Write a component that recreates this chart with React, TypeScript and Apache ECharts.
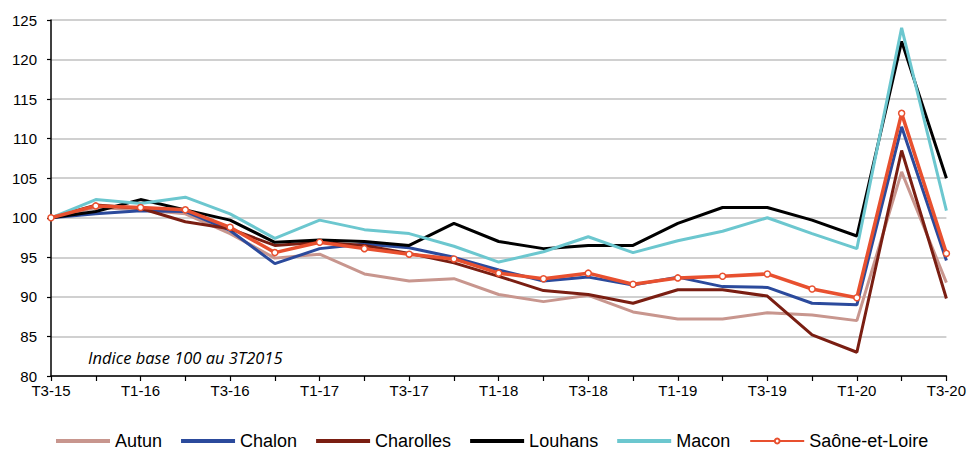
import React, { useEffect, useRef } from "react";
import * as echarts from "echarts";

const categories = [
  "T3-15", "T4-15", "T1-16", "T2-16", "T3-16", "T4-16", "T1-17", "T2-17", "T3-17", "T4-17",
  "T1-18", "T2-18", "T3-18", "T4-18", "T1-19", "T2-19", "T3-19", "T4-19", "T1-20", "T2-20", "T3-20",
];

const autun = [100, 101.3, 101.0, 100.5, 98.0, 94.9, 95.4, 92.9, 92.0, 92.3, 90.3, 89.4, 90.2, 88.1, 87.2, 87.2, 88.0, 87.7, 87.0, 105.8, 91.8];
const chalon = [100, 100.5, 100.9, 100.8, 98.4, 94.2, 96.1, 96.7, 96.2, 95.0, 93.4, 92.0, 92.5, 91.5, 92.5, 91.3, 91.2, 89.2, 89.0, 111.5, 94.6];
const charolles = [100, 101.6, 101.2, 99.5, 98.6, 96.5, 96.9, 96.5, 95.5, 94.3, 92.6, 90.8, 90.3, 89.2, 90.9, 90.9, 90.1, 85.2, 83.0, 108.5, 89.8];
const louhans = [100, 100.8, 102.3, 101.0, 99.7, 96.9, 97.2, 97.0, 96.5, 99.3, 97.0, 96.1, 96.5, 96.5, 99.3, 101.3, 101.3, 99.7, 97.7, 122.3, 105.0];
const macon = [100, 102.3, 101.8, 102.6, 100.5, 97.4, 99.7, 98.5, 98.0, 96.4, 94.4, 95.7, 97.6, 95.6, 97.1, 98.3, 100.0, 98.0, 96.1, 124.0, 100.9];
const saone = [100, 101.5, 101.3, 101.0, 98.8, 95.6, 96.9, 96.1, 95.4, 94.8, 93.0, 92.3, 93.0, 91.6, 92.4, 92.6, 92.9, 91.0, 89.9, 113.2, 95.5];

const yTicks = { min: 80, max: 125, interval: 5 };
const note = "Indice base 100 au 3T2015";
const seriesNames = ["Autun", "Chalon", "Charolles", "Louhans", "Macon", "Saône-et-Loire"];

const FONT = "Liberation Sans, Arial, sans-serif";
const BAR_ICON = "path://M0,0 L54,0 L54,4 L0,4 Z";

export default function App() {
  const ref = useRef<HTMLDivElement>(null);
  useEffect(() => {
    if (!ref.current) return;
    const chart = echarts.init(ref.current, undefined, { renderer: "svg" });
    const mk = (name: string, data: number[], color: string, width: number, marker = false) => ({
      name,
      type: "line",
      data,
      showSymbol: marker,
      symbol: marker ? "circle" : "none",
      symbolSize: 6,
      itemStyle: marker ? { color: "#fff", borderColor: color, borderWidth: 1.5 } : { color },
      lineStyle: { color, width },
      emphasis: { disabled: true },
    });
    chart.setOption({
      animation: false,
      textStyle: { fontFamily: FONT },
      grid: { left: 51, right: 20, top: 20, bottom: 74, containLabel: false },
      xAxis: {
        type: "category",
        data: categories,
        boundaryGap: false,
        axisLine: { lineStyle: { color: "#000", width: 1.5 } },
        axisTick: { show: true, inside: false, length: 5, interval: 0, lineStyle: { color: "#000", width: 1.2 } },
        axisLabel: { interval: 1, color: "#000", fontSize: 15, fontFamily: FONT, margin: 7 },
        splitLine: { show: false },
      },
      yAxis: {
        type: "value",
        min: yTicks.min,
        max: yTicks.max,
        interval: yTicks.interval,
        axisLine: { show: true, lineStyle: { color: "#000", width: 1.5 } },
        axisTick: { show: true, length: 4, lineStyle: { color: "#000", width: 1.2 } },
        axisLabel: { color: "#000", fontSize: 15, fontFamily: FONT, margin: 14 },
        splitLine: { show: true, lineStyle: { color: "#C0C0C0", width: 1.5 } },
      },
      legend: {
        bottom: 0,
        left: 56,
        padding: 0,
        itemWidth: 54,
        itemHeight: 6,
        itemGap: 19,
        textStyle: { fontSize: 18, color: "#000", fontFamily: FONT },
        data: seriesNames.map((n) => (n === "Saône-et-Loire" ? { name: n } : { name: n, icon: BAR_ICON })),
      },
      graphic: [
        {
          type: "text",
          left: 88,
          top: 349,
          style: { text: note, fontStyle: "italic", fontSize: 16.5, fill: "#000", fontFamily: "Open Sans, Liberation Sans, sans-serif" },
        },
      ],
      series: [
        mk("Autun", autun, "#C8968E", 3),
        mk("Chalon", chalon, "#2B4A9C", 3),
        mk("Charolles", charolles, "#7A1E12", 3),
        mk("Louhans", louhans, "#000000", 3),
        mk("Macon", macon, "#6CC7CF", 3),
        mk("Saône-et-Loire", saone, "#E8502F", 3.5, true),
      ],
    });
    return () => chart.dispose();
  }, []);
  return <div ref={ref} style={{ position: "absolute", left: 0, top: 0, width: 969, height: 450 }} />;
}
